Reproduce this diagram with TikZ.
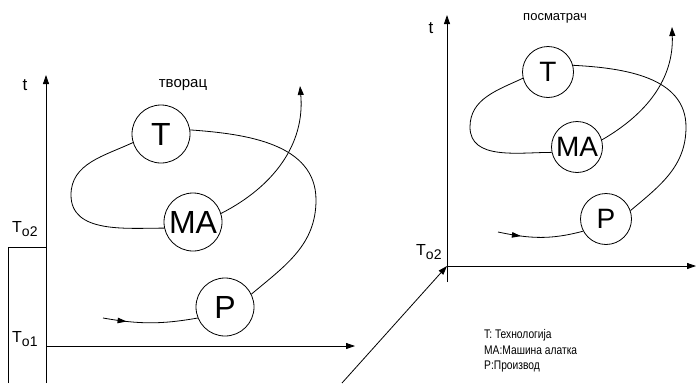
\documentclass[tikz,border=0pt]{standalone}
\usepackage{fontspec}
\setmainfont{Liberation Sans}
\newfontfamily\legfont[FakeStretch=0.82]{Liberation Sans}
\usetikzlibrary{arrows.meta,decorations.markings}
\begin{document}
\begin{tikzpicture}[x=1pt,y=-1pt,
  ln/.style={line width=0.8pt},
  axis/.style={ln,-{Triangle[length=9pt,width=6pt]}},
  circ/.style={circle,draw,ln,fill=white,inner sep=0pt},
  bigc/.style={circ,minimum size=58pt,font=\fontsize{32}{36}\selectfont},
  smallc/.style={circ,minimum size=51pt,font=\fontsize{28}{32}\selectfont},
  endarrow/.style={ln,-{Triangle[length=9pt,width=6pt]}},
  startarrow/.style={ln,postaction={decorate},decoration={markings,mark=at position #1 with {\arrow{Triangle[length=9pt,width=5.5pt]}}}},
  axlabel/.style={anchor=base,inner sep=0pt,font=\fontsize{17}{20}\selectfont},
  tlabel/.style={anchor=base west,inner sep=0pt,font=\fontsize{16}{19}\selectfont},
  title/.style={anchor=base,inner sep=0pt},
  legend/.style={anchor=base west,inner sep=0pt,font=\legfont\fontsize{12.5}{15}\selectfont}
]
\useasboundingbox (0,0) rectangle (696,383);
\newcommand{\subsc}[1]{\raisebox{-4pt}{\fontsize{14}{16}\selectfont #1}}
% ---------- left axes ----------
\coordinate (lo) at (46,383);
\coordinate (ly) at (46,75);
\coordinate (lxo) at (46,346);
\coordinate (lx) at (355,346);
\draw[axis] (lo) -- (ly);
\draw[axis] (lxo) -- (lx);
\coordinate (st1) at (8,383);
\coordinate (st2) at (8,247);
\coordinate (st3) at (46,247);
\draw[ln] (st1) -- (st2) -- (st3);
% ---------- right axes ----------
\coordinate (ro) at (447,266);
\coordinate (rb) at (447,282);
\coordinate (ry) at (447,15);
\coordinate (rx) at (696,266);
\draw[axis] (rb) -- (ry);
\draw[axis] (ro) -- (rx);
\coordinate (d0) at (342,383);
\draw[axis] (d0) -- (ro);
% ---------- labels ----------
\node[axlabel] (t1) at (25,90) {t};
\node[axlabel] (t2) at (431,33) {t};
\node[title,font=\fontsize{15}{18}\selectfont] (tvorac) at (183,87) {творац};
\node[title,font=\fontsize{13}{16}\selectfont] (posm) at (555,20) {посматрач};
\node[tlabel] (to2l) at (12,232) {T\subsc{o2}};
\node[tlabel] (to1l) at (12,342) {T\subsc{o1}};
\node[tlabel] (to2r) at (416,255) {T\subsc{o2}};
\node[legend] (leg1) at (484,338) {T: Технологија};
\node[legend] (leg2) at (484,354) {MA:Машина алатка};
\node[legend] (leg3) at (484,369) {P:Производ};
% ---------- left circles ----------
\node[bigc] (T1) at (161,134) {T};
\node[bigc] (MA1) at (193,222) {MA};
\node[bigc] (P1) at (225,307) {P};
\coordinate (s1) at (103,318);
\coordinate (r1) at (316,200);
\coordinate (l1) at (71,195);
\coordinate (e1) at (300,86);
\draw[startarrow=0.25] (s1) to[out=-10,in=190] (P1.202);
\draw[ln] (P1.26) to[out=40,in=-90] (r1) to[out=90,in=-4] (T1.8);
\draw[ln] (T1.197) to[out=205,in=90] (l1) to[out=-90,in=180] (MA1.192);
\draw[endarrow] (MA1.17) to[out=27,in=-85] (e1);
% ---------- right circles ----------
\node[smallc] (T2) at (548,72) {T};
\node[smallc] (MA2) at (577,147) {MA};
\node[smallc] (P2) at (606,219) {P};
\coordinate (s2) at (498,232);
\coordinate (r2) at (686,127);
\coordinate (l2) at (470,127);
\coordinate (e2) at (672,27);
\draw[startarrow=0.27] (s2) to[out=-12,in=195] (P2.208);
\draw[ln] (P2.19) to[out=40,in=-90] (r2) to[out=90,in=-3] (T2.15);
\draw[ln] (T2.194) to[out=205,in=90] (l2) to[out=-90,in=180] (MA2.192);
\draw[endarrow] (MA2.16) to[out=30,in=-88] (e2);
\end{tikzpicture}
\end{document}
